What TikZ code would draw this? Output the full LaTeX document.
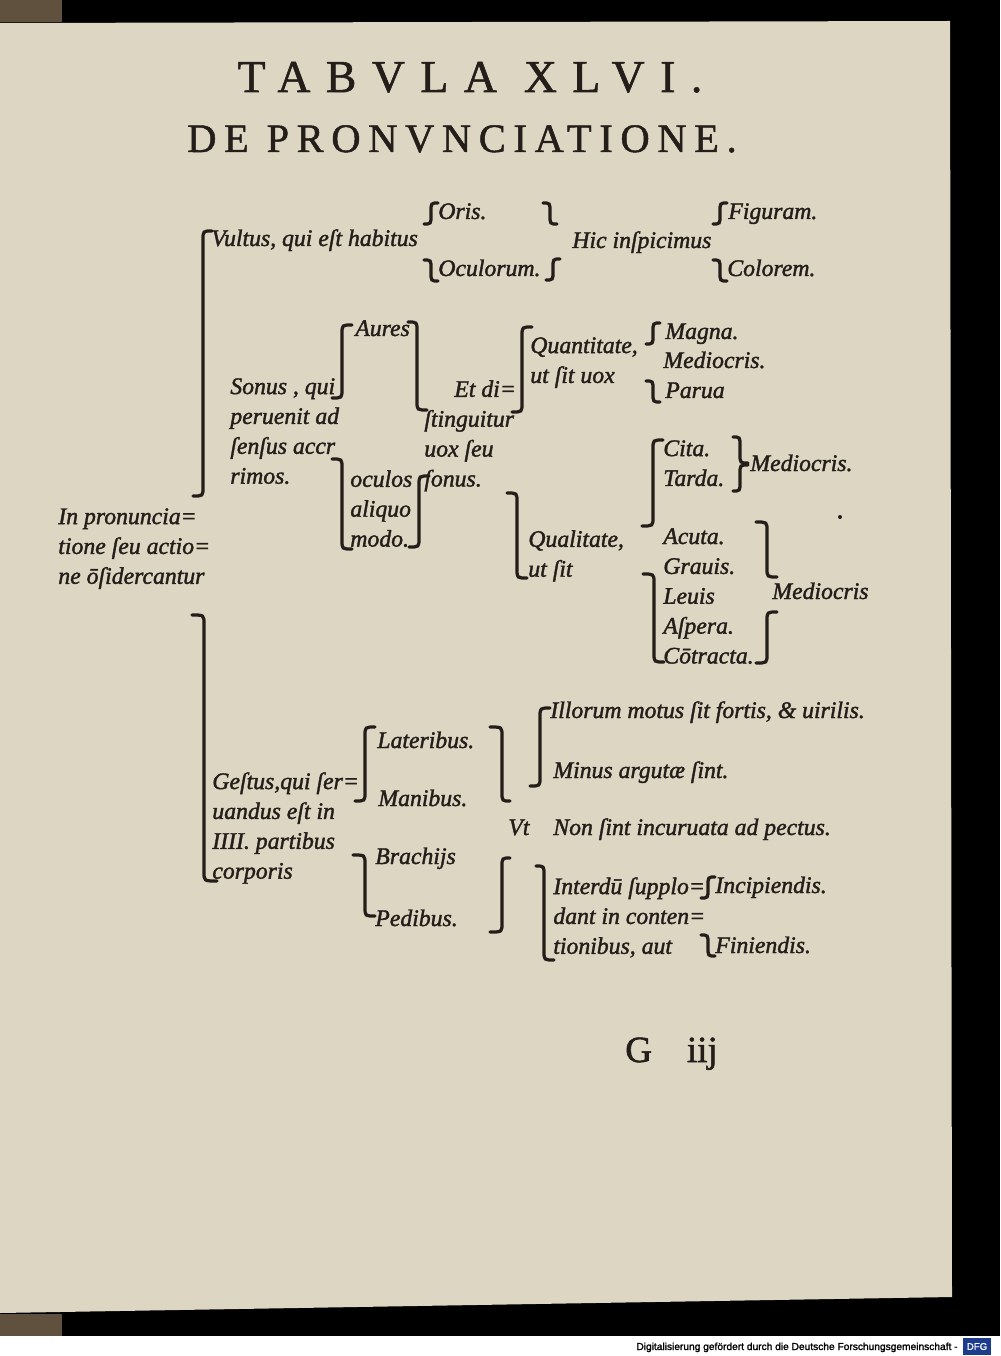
\documentclass[tikz,border=0pt]{standalone}
\usepackage{fontspec}
\setmainfont{Liberation Serif}
\newfontfamily\tabfont[FakeBold=1.6]{Liberation Serif}
\newfontfamily\titlefont[LetterSpace=34,FakeBold=1.2]{Liberation Serif}
\newfontfamily\subtitlefont[LetterSpace=19,FakeBold=1.2]{Liberation Serif}
\newfontfamily\footfont[FakeBold=1.5]{Liberation Sans}
\definecolor{paper}{RGB}{221,214,195}
\definecolor{ink}{RGB}{36,30,26}
\definecolor{cover}{RGB}{96,80,62}
\definecolor{dfgblue}{RGB}{30,60,140}

% x, y top, y bottom, offset of top end, offset of bottom end
\newcommand{\brk}[5]{\draw[brakline] ({#1+(#4)},#2) .. controls (#1,#2) .. (#1,{#2+9}) -- (#1,{#3-9}) .. controls (#1,#3) .. ({#1+(#5)},#3);}

\begin{document}
\begin{tikzpicture}[
  x=0.2mm, y=-0.2mm,
  txt/.style={font=\tabfont\itshape\fontsize{13.5}{17}\selectfont, text=ink, inner sep=0pt, anchor=base west},
  blk/.style={txt, align=left, anchor=north west},
  brakline/.style={draw=ink, line width=0.65mm, line cap=round}
]
  \useasboundingbox (0,0) rectangle (1000,1356);
  % page and scan border
  \fill[black] (0,0) rectangle (1000,1356);
  \fill[white] (0,1336) rectangle (1000,1356);
  \fill[paper] (0,23) -- (950,21) -- (952,1297) -- (0,1313) -- cycle;
  \fill[cover] (0,0) rectangle (62,22);
  \fill[cover] (0,1314) rectangle (62,1336);

  % heading
  \node[font=\titlefont\fontsize{26}{30}\selectfont, text=ink, anchor=base, inner sep=0pt] (title) at (470,92) {TABVLA XLVI.};
  \node[font=\subtitlefont\fontsize{23}{28}\selectfont, text=ink, anchor=base, inner sep=0pt] (subtitle) at (462,152) {DE PRONVNCIATIONE.};

  % Vultus
  \node[txt] (vultus) at (211,246) {Vultus, qui eſt habitus};
  \node[txt] (oris) at (438,219) {Oris.};
  \node[txt] (oculorum) at (438,276) {Oculorum.};
  \node[txt] (hic) at (572,248) {Hic inſpicimus};
  \node[txt] (figuram) at (728,219) {Figuram.};
  \node[txt] (colorem) at (727,276) {Colorem.};

  % Sonus
  \node[blk] (sonus) at (230,378) {Sonus , qui\\peruenit ad\\ſenſus accr\\rimos.};
  \node[txt] (aures) at (355,336) {Aures};
  \node[blk] (oculos) at (350,470) {oculos\\aliquo\\modo.};
  \node[blk] (distinguitur) at (424,380) {\hspace*{6mm}Et di=\\ſtinguitur\\uox ſeu\\ſonus.};
  \node[blk] (quantitas) at (530,337) {Quantitate,\\ut ſit uox};
  \node[txt] (magna) at (665,339) {Magna.};
  \node[txt] (mediocrisA) at (663,368) {Mediocris.};
  \node[txt] (parua) at (665,398) {Parua};
  \node[blk] (qualitas) at (528,530) {Qualitate,\\ut ſit};
  \node[blk] (motus) at (663,440) {Cita.\\Tarda.};
  \node[txt] (mediocrisB) at (750,471) {Mediocris.};
  \node[blk] (sonitus) at (663,528) {Acuta.\\Grauis.\\Leuis\\Aſpera.\\Cōtracta.};
  \node[txt] (mediocrisC) at (772,599) {Mediocris};
  \fill[ink] (840,517) circle (2);

  \node[blk] (pronunciatio) at (58,508) {In pronuncia=\\tione ſeu actio=\\ne ōſidercantur};

  % Gestus
  \node[blk] (gestus) at (212,772) {Geſtus,qui ſer=\\uandus eſt in\\IIII. partibus\\corporis};
  \node[txt] (lateribus) at (377,748) {Lateribus.};
  \node[txt] (manibus) at (378,806) {Manibus.};
  \node[txt] (brachijs) at (375,864) {Brachijs};
  \node[txt] (pedibus) at (375,926) {Pedibus.};
  \node[txt] (vt) at (508,835) {Vt};
  \node[txt] (illorum) at (550,718) {Illorum motus ſit fortis, \& uirilis.};
  \node[txt] (minus) at (553,778) {Minus argutæ ſint.};
  \node[txt] (nonsint) at (553,835) {Non ſint incuruata ad pectus.};
  \node[blk] (interdu) at (553,877) {Interdū ſupplo=\\dant in conten=\\tionibus, aut};
  \node[txt] (incipiendis) at (715,893) {Incipiendis.};
  \node[txt] (finiendis) at (715,953) {Finiendis.};

  % brackets
  \brk{203}{231}{496}{9}{-10}
  \brk{204}{615}{881}{-12}{13}
  \brk{431}{203}{224}{7}{-7}
  \brk{431}{260}{281}{-7}{7}
  \brk{550}{203}{224}{-7}{7}
  \brk{553}{259}{280}{7}{-7}
  \brk{720}{203}{224}{7}{-7}
  \brk{720}{260}{281}{-7}{7}
  \brk{342}{325}{398}{10}{-10}
  \brk{342}{459}{549}{-10}{10}
  \brk{417}{322}{410}{-9}{10}
  \brk{419}{476}{547}{10}{-10}
  \brk{522}{327}{412}{10}{-10}
  \brk{517}{493}{578}{-10}{10}
  \brk{653}{323}{344}{7}{-7}
  \brk{653}{381}{402}{-7}{7}
  \brk{653}{440}{526}{10}{-11}
  \brk{654}{574}{662}{-11}{10}
  \brk{740}{437}{463}{-7}{8}
  \brk{740}{465}{491}{8}{-7}
  \brk{767}{522}{577}{-11}{10}
  \brk{767}{612}{663}{10}{-11}
  \brk{365}{727}{801}{10}{-10}
  \brk{365}{855}{916}{-12}{10}
  \brk{502}{727}{801}{-12}{8}
  \brk{502}{858}{932}{8}{-12}
  \brk{540}{708}{786}{10}{-10}
  \brk{544}{866}{960}{-8}{10}
  \brk{708}{877}{898}{7}{-7}
  \brk{708}{935}{956}{-7}{7}

  % signature
  \node[font=\tabfont\fontsize{21}{24}\selectfont, text=ink, anchor=base west, inner sep=0pt] (folio) at (625,1062) {G\hspace{7mm}iij};

  % footer
  \node[font=\footfont\fontsize{5.8}{7}\selectfont, anchor=base east, inner sep=0pt] (footer) at (958,1350) {Digitalisierung gefördert durch die Deutsche Forschungsgemeinschaft -};
  \fill[dfgblue] (963,1338) rectangle (991,1355);
  \node[font=\footfont\fontsize{5.5}{6}\selectfont, text=white, inner sep=0pt] (dfg) at (977,1346.5) {DFG};
\end{tikzpicture}
\end{document}
